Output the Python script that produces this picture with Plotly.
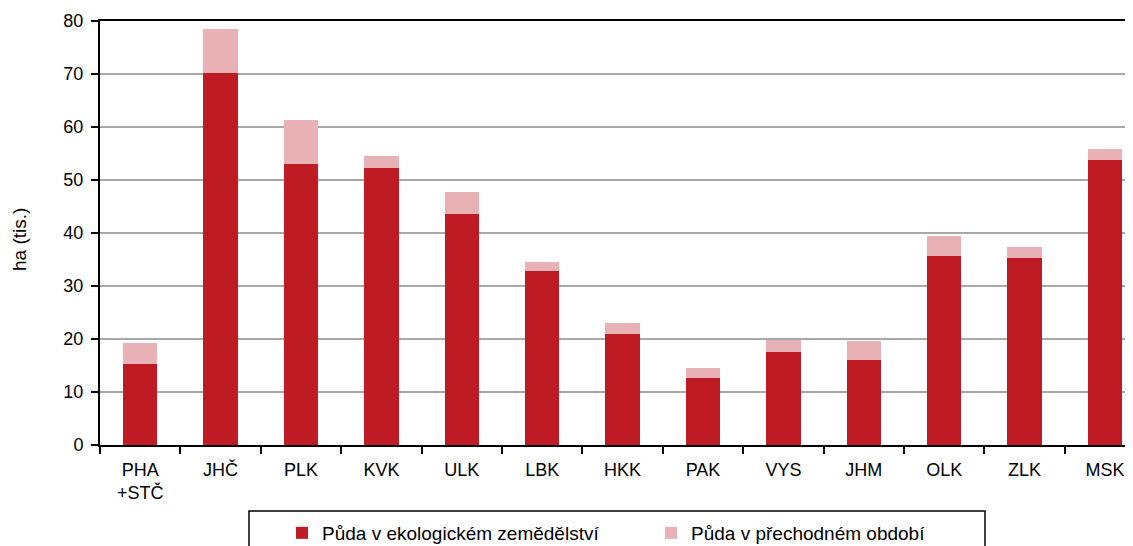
import plotly.graph_objects as go

categories = ["PHA<br>+STČ", "JHČ", "PLK", "KVK", "ULK", "LBK", "HKK", "PAK", "VYS", "JHM", "OLK", "ZLK", "MSK"]
eko = [15.3, 70.2, 53.0, 52.3, 43.5, 32.8, 21.0, 12.7, 17.5, 16.0, 35.6, 35.2, 53.8]
prechod = [3.9, 8.2, 8.3, 2.2, 4.2, 1.8, 2.1, 1.9, 2.4, 3.6, 3.9, 2.2, 2.1]

DARK = "#BE1B24"
LIGHT = "#E8B1B5"
FONT = "Liberation Sans, Arial, sans-serif"

OFF = 8  # page body margin
W, H = 1133 - OFF, 546 - OFF
ML, MR, MT, MB = 100 - OFF, 0, 21 - OFF, 101
plot_w = W - ML - MR
plot_h = H - MT - MB
cat_px = 80.4
x_max = -0.5 + plot_w / cat_px
plot_bottom_page = OFF + H - MB


def px_x(p):
    return (p - OFF - ML) / plot_w


def px_y(p):
    return (plot_bottom_page - p) / plot_h


fig = go.Figure()
fig.add_trace(go.Bar(x=categories, y=eko, name="Půda v ekologickém zemědělství",
                     marker=dict(color=DARK, line=dict(width=0)), width=0.43))
fig.add_trace(go.Bar(x=categories, y=prechod, name="Půda v přechodném období",
                     marker=dict(color=LIGHT, line=dict(width=0)), width=0.43))

fig.update_layout(
    barmode="stack",
    width=W, height=H,
    margin=dict(l=ML, r=MR, t=MT, b=MB, pad=0, autoexpand=False),
    plot_bgcolor="white", paper_bgcolor="white",
    font=dict(family=FONT, size=18, color="black"),
    showlegend=True,
    legend=dict(orientation="h", x=px_x(282), xanchor="left", y=px_y(514), yanchor="top",
                font=dict(family=FONT, size=19, color="black"),
                bgcolor="rgba(0,0,0,0)", borderwidth=0,
                entrywidth=324, entrywidthmode="pixels", traceorder="normal"),
    xaxis=dict(range=[-0.5, x_max], showline=True, linecolor="black", linewidth=2, mirror=True,
               ticks="outside", tickson="boundaries", ticklen=7, tickwidth=2, tickcolor="black",
               showgrid=False, tickfont=dict(size=18), ticklabelstandoff=7, fixedrange=True),
    yaxis=dict(range=[0, 80], dtick=10, showline=True, linecolor="black", linewidth=2,
               ticks="outside", ticklen=7, tickwidth=2, tickcolor="black",
               showgrid=True, gridcolor="#A8A8A8", gridwidth=1.5, zeroline=False,
               tickfont=dict(size=18), ticklabelstandoff=4, fixedrange=True),
    shapes=[dict(type="rect", xref="paper", yref="paper",
                 x0=px_x(249), x1=px_x(985), y0=px_y(511), y1=px_y(575),
                 line=dict(color="black", width=1.5), fillcolor="rgba(0,0,0,0)", layer="below")],
    annotations=[dict(text="ha (tis.)", xref="paper", yref="paper", x=px_x(19), y=px_y(240),
                      xanchor="center", yanchor="middle", textangle=-90, showarrow=False,
                      font=dict(family=FONT, size=19, color="black"))],
)

fig.write_html("out.html")
